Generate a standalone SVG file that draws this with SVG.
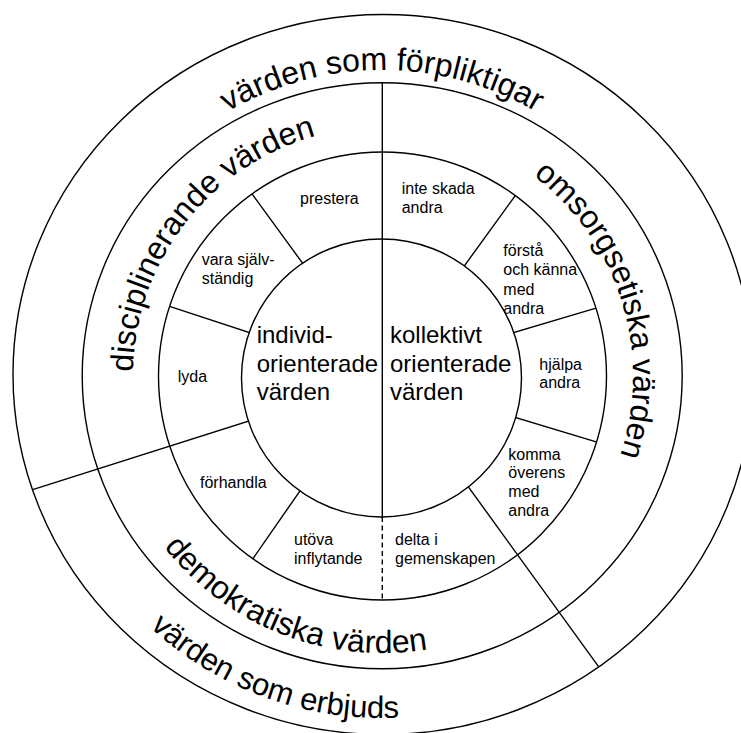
<svg xmlns="http://www.w3.org/2000/svg" width="741" height="733" viewBox="0 0 741 733">
<style>
.ring{fill:none;stroke:#000;stroke-width:1.4}
.div{stroke:#000;stroke-width:1.4;fill:none}
.big{font-family:"Liberation Sans",Arial,Helvetica,sans-serif;font-size:24px;fill:#000}
.lab{font-family:"Liberation Sans",Arial,Helvetica,sans-serif;font-size:16px;fill:#000}
.arc{font-family:"Liberation Sans",Arial,Helvetica,sans-serif;font-size:32px;fill:#000}
</style>
<defs>
<clipPath id="annulus"><path clip-rule="evenodd" d="M158.5,376a224,224 0 1,0 448,0a224,224 0 1,0 -448,0Z M241.5,378a140,139 0 1,0 280,0a140,139 0 1,0 -280,0Z"/></clipPath>
<clipPath id="ringAll"><path clip-rule="evenodd" d="M13,374.5a370,360 0 1,0 740,0a370,360 0 1,0 -740,0Z M241.5,378a140,139 0 1,0 280,0a140,139 0 1,0 -280,0Z"/></clipPath>
<clipPath id="in3"><ellipse cx="382.2" cy="375.8" rx="300" ry="293"/></clipPath>
<path id="pTop" d="M77,375A305,305 0 0 1 687,375"/>
<path id="pDisc" d="M133,376A249,249 0 0 1 631,376"/>
<path id="pOms" d="M382,125A251,251 0 0 1 382,627"/>
<path id="pDemo" d="M105,376A277,277 0 0 0 659,376"/>
<path id="pErb" d="M40,376A342,342 0 0 0 724,376"/>
</defs>
<rect width="741" height="733" fill="#fff"/>
<g id="rings">
<ellipse class="ring" cx="383" cy="374.5" rx="370" ry="360"/>
<ellipse class="ring" cx="382.2" cy="375.8" rx="300" ry="293"/>
<circle class="ring" cx="382.5" cy="376" r="224"/>
<ellipse class="ring" cx="381.5" cy="378" rx="140" ry="139"/>
</g>
<g id="connectors">
<g clip-path="url(#annulus)">
<line class="div" x1="306.9" y1="269.1" x2="247.4" y2="187.6"/>
<line class="div" x1="256.2" y1="334.8" x2="161.2" y2="303.6"/>
<line class="div" x1="304" y1="485.1" x2="248.6" y2="564.9"/>
<line class="div" x1="505.4" y1="414.4" x2="605.3" y2="444.6"/>
<line class="div" x1="503.7" y1="335.6" x2="603.6" y2="305.8"/>
<line class="div" x1="458.4" y1="274.1" x2="519.9" y2="189.2"/>
</g>
<g clip-path="url(#ringAll)">
<line class="div" x1="256.2" y1="418.7" x2="31.9" y2="489.8"/>
<line class="div" x1="462.4" y1="478.6" x2="604.9" y2="675.4"/>
</g>
<line class="div" clip-path="url(#in3)" x1="382.3" y1="70" x2="382.3" y2="517"/>
<line class="div" x1="382.3" y1="517" x2="382.3" y2="600" stroke-dasharray="5,3.5"/>
</g>
<g id="center-left"><text class="big" x="256.7" y="343">individ-<tspan x="256.7" dy="28.5">orienterade</tspan><tspan x="256.7" dy="28.5">värden</tspan></text></g>
<g id="center-right"><text class="big" x="390" y="343">kollektivt<tspan x="390" dy="28.5">orienterade</tspan><tspan x="390" dy="28.5">värden</tspan></text></g>
<g id="seg-prestera"><text class="lab" x="300" y="204">prestera</text></g>
<g id="seg-vara"><text class="lab" x="201.7" y="265">vara själv-<tspan x="201.7" dy="19">ständig</tspan></text></g>
<g id="seg-lyda"><text class="lab" x="177.7" y="381.5">lyda</text></g>
<g id="seg-forhandla"><text class="lab" x="200" y="488">förhandla</text></g>
<g id="seg-utova"><text class="lab" x="294" y="544.5">utöva<tspan x="294" dy="19">inflytande</tspan></text></g>
<g id="seg-delta"><text class="lab" x="395" y="544.5">delta i<tspan x="395" dy="19">gemenskapen</tspan></text></g>
<g id="seg-komma"><text class="lab" x="508.3" y="459.5">komma<tspan x="508.3" dy="18.8">överens</tspan><tspan x="508.3" dy="18.8">med</tspan><tspan x="508.3" dy="18.8">andra</tspan></text></g>
<g id="seg-hjalpa"><text class="lab" x="539.3" y="369.5">hjälpa<tspan x="539.3" dy="18.8">andra</tspan></text></g>
<g id="seg-forsta"><text class="lab" x="503.3" y="255.5">förstå<tspan x="503.3" dy="19.5">och känna</tspan><tspan x="503.3" dy="19.5">med</tspan><tspan x="503.3" dy="19.5">andra</tspan></text></g>
<g id="seg-inte"><text class="lab" x="401.7" y="194">inte skada<tspan x="401.7" dy="18.5">andra</tspan></text></g>
<g id="ring-top"><text class="arc"><textPath href="#pTop" startOffset="50%" text-anchor="middle">värden som förpliktigar</textPath></text></g>
<g id="ring-disc"><text class="arc"><textPath href="#pDisc" startOffset="4">disciplinerande värden</textPath></text></g>
<g id="ring-oms"><text class="arc"><textPath href="#pOms" startOffset="162">omsorgsetiska värden</textPath></text></g>
<g id="ring-demo"><text class="arc"><textPath href="#pDemo" startOffset="184">demokratiska värden</textPath></text></g>
<g id="ring-erb"><text class="arc" style="font-size:31px"><textPath href="#pErb" startOffset="282">värden som erbjuds</textPath></text></g>
</svg>
